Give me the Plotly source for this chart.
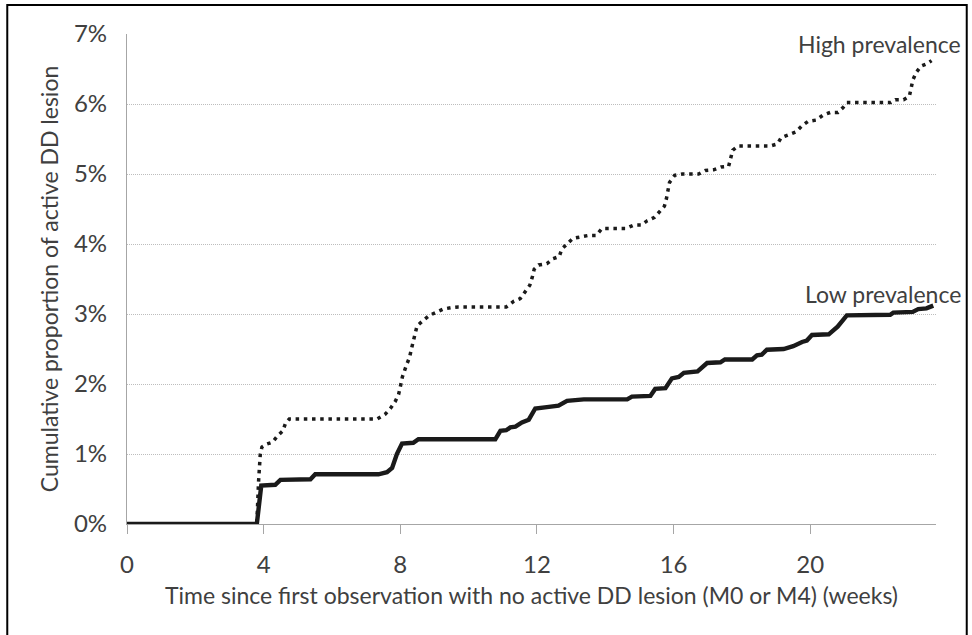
import plotly.graph_objects as go

# ---- data (weeks, cumulative %) ----
low_weeks = [0, 3.80, 3.93, 4.34, 4.49, 5.37, 5.51, 7.36, 7.61, 7.76, 7.90, 8.05, 8.38, 8.53,
             10.78, 10.93, 11.10, 11.22, 11.37, 11.56, 11.76, 11.85, 11.95, 12.29, 12.63, 12.88,
             13.37, 14.64, 14.78, 15.32, 15.46, 15.76, 15.95, 16.15, 16.30, 16.70, 16.98, 17.37,
             17.50, 18.30, 18.44, 18.58, 18.73, 19.22, 19.40, 19.50, 19.76, 19.90, 20.05, 20.54,
             20.80, 21.07, 22.34, 22.43, 23.00, 23.16, 23.40, 23.60]
low_pct = [0, 0, 0.55, 0.56, 0.63, 0.64, 0.71, 0.71, 0.74, 0.80, 1.00, 1.15, 1.16, 1.21,
           1.21, 1.33, 1.34, 1.38, 1.39, 1.45, 1.49, 1.58, 1.65, 1.67, 1.69, 1.76,
           1.78, 1.78, 1.82, 1.83, 1.93, 1.94, 2.08, 2.10, 2.16, 2.18, 2.30, 2.31,
           2.35, 2.35, 2.41, 2.42, 2.49, 2.50, 2.53, 2.54, 2.60, 2.62, 2.70, 2.71,
           2.82, 2.98, 2.99, 3.02, 3.03, 3.07, 3.08, 3.12]

high_weeks = [0, 3.80, 3.85, 3.90, 3.95, 4.08, 4.26, 4.41, 4.56, 4.64, 4.75, 7.32, 7.56, 7.71,
              7.85, 7.95, 8.00, 8.06, 8.18, 8.27, 8.32, 8.37, 8.42, 8.49, 8.65, 8.85, 9.03,
              9.25, 9.48, 9.70, 11.10, 11.32, 11.51, 11.66, 11.79, 11.86, 11.92, 12.05, 12.29,
              12.47, 12.65, 12.73, 12.88, 13.05, 13.27, 13.48, 13.73, 13.90, 14.60, 14.83,
              15.05, 15.22, 15.44, 15.59, 15.73, 15.79, 15.83, 15.88, 16.03, 16.26, 16.73,
              16.93, 17.17, 17.39, 17.61, 17.68, 17.73, 17.88, 18.83, 19.04, 19.15, 19.37,
              19.58, 19.76, 19.93, 20.17, 20.37, 20.59, 20.81, 20.96, 21.07, 22.35, 22.49,
              22.73, 22.90, 22.95, 23.00, 23.10, 23.24, 23.43, 23.55]
high_pct = [0, 0, 0.60, 0.99, 1.10, 1.14, 1.17, 1.26, 1.33, 1.44, 1.50, 1.50, 1.57, 1.65,
            1.75, 1.85, 1.96, 2.10, 2.27, 2.38, 2.49, 2.60, 2.71, 2.83, 2.90, 2.98, 3.02,
            3.07, 3.09, 3.10, 3.10, 3.18, 3.22, 3.32, 3.41, 3.52, 3.64, 3.70, 3.72,
            3.79, 3.82, 3.93, 4.00, 4.08, 4.10, 4.12, 4.12, 4.22, 4.22, 4.27,
            4.27, 4.33, 4.38, 4.46, 4.54, 4.65, 4.77, 4.88, 4.98, 5.00, 5.00,
            5.05, 5.06, 5.10, 5.11, 5.22, 5.34, 5.40, 5.40, 5.43, 5.52, 5.56,
            5.60, 5.69, 5.75, 5.77, 5.84, 5.88, 5.88, 5.95, 6.02, 6.02, 6.06,
            6.06, 6.11, 6.22, 6.34, 6.45, 6.54, 6.58, 6.62]

x_ticks = [0, 4, 8, 12, 16, 20]
y_ticks = [0, 1, 2, 3, 4, 5, 6, 7]
y_tick_labels = ["0%", "1%", "2%", "3%", "4%", "5%", "6%", "7%"]

x_title = "Time since first observation with no active DD lesion (M0 or M4) (weeks)"
y_title = "Cumulative proportion of active DD lesion"
label_high = "High prevalence"
label_low = "Low prevalence"

FONT = "Lato, Open Sans, sans-serif"
TXT = "#404040"
TICK_SIZE = 24
TITLE_SIZE = 23

fig = go.Figure()
fig.add_trace(go.Scatter(x=high_weeks, y=high_pct, mode="lines", name=label_high,
                         line=dict(color="#1a1a1a", width=3.5, dash="3.5px,4.7px")))
fig.add_trace(go.Scatter(x=low_weeks, y=low_pct, mode="lines", name=label_low,
                         line=dict(color="#1a1a1a", width=4.4)))

fig.update_layout(
    width=972, height=635,
    margin=dict(l=127, r=36, t=34, b=111),
    paper_bgcolor="white", plot_bgcolor="white",
    showlegend=False,
    font=dict(family=FONT, color=TXT, size=TITLE_SIZE),
    xaxis=dict(range=[0, 23.68], tickvals=x_ticks, ticks="outside", ticklen=9,
               tickcolor="#a6a6a6", showgrid=False, zeroline=False, showline=True,
               linecolor="#a6a6a6", linewidth=1.3, ticklabelstandoff=10,
               tickfont=dict(size=TICK_SIZE, family=FONT, color=TXT),
               title=dict(text=x_title, font=dict(size=TITLE_SIZE, family=FONT, color=TXT), standoff=10)),
    yaxis=dict(range=[0, 7], tickvals=y_ticks, ticktext=y_tick_labels, ticks="",
               showgrid=True, gridcolor="#bdbdbd", griddash="1px,1px", gridwidth=1,
               zeroline=False, showline=True, linecolor="#a6a6a6", linewidth=1.3,
               ticklabelstandoff=14,
               tickfont=dict(size=TICK_SIZE, family=FONT, color=TXT),
               title=dict(text=y_title, font=dict(size=TITLE_SIZE, family=FONT, color=TXT), standoff=8)),
)

fig.add_annotation(text=label_high, xref="paper", yref="paper", x=1.033, y=0.98,
                   xanchor="right", yanchor="middle", showarrow=False,
                   font=dict(size=TITLE_SIZE, family=FONT, color=TXT))
fig.add_annotation(text=label_low, xref="paper", yref="paper", x=1.033, y=0.469,
                   xanchor="right", yanchor="middle", showarrow=False,
                   font=dict(size=TITLE_SIZE, family=FONT, color=TXT))

# outer frame around the figure
fig.add_shape(type="rect", xref="paper", yref="paper",
              x0=-0.148, x1=1.038, y0=-0.25, y1=1.059,
              line=dict(color="black", width=2), fillcolor="rgba(0,0,0,0)", layer="above")

fig.write_html("out.html")
